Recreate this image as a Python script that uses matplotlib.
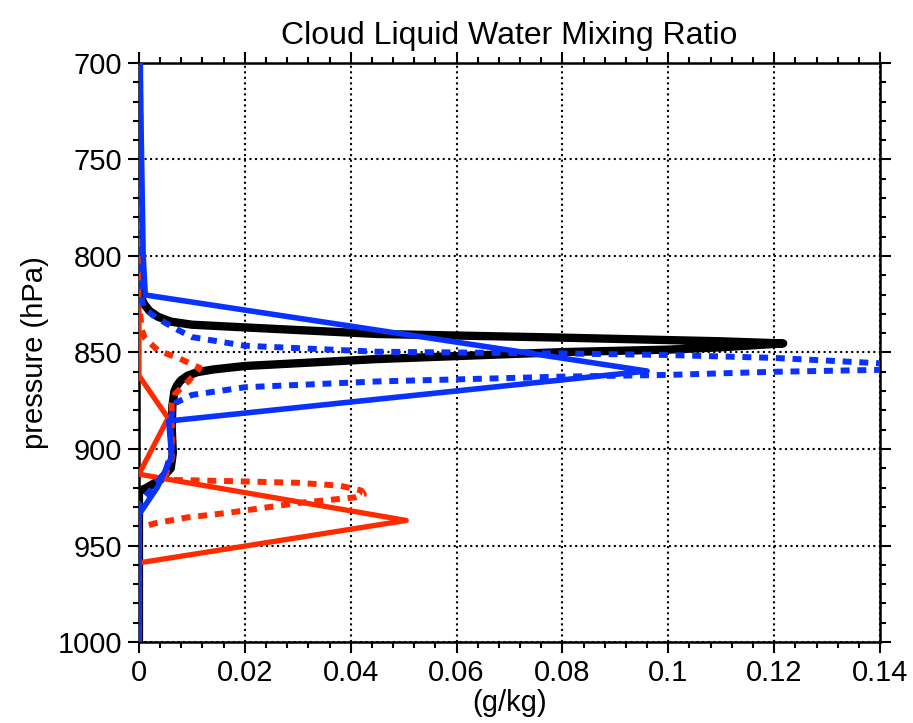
import matplotlib
matplotlib.use("Agg")
import matplotlib.pyplot as plt
from matplotlib.ticker import MultipleLocator

plt.rcParams['font.family'] = ['Liberation Sans', 'DejaVu Sans']

# pressure levels (hPa) and mixing ratio (g/kg) for each profile
black_p = [700, 815, 821, 825, 828.5, 831.5, 834, 835.6, 837, 840.4, 842.3,
           844.2, 845.3, 847.3, 848.5, 849.8, 853.4, 857, 858.8, 860.2, 862,
           864.5, 867, 870, 878, 890, 902, 910, 916, 920, 922, 1000]
black_q = [0, 0, 0.0003, 0.001, 0.002, 0.0036, 0.006, 0.01, 0.02, 0.045, 0.08,
           0.11, 0.1217, 0.11, 0.1, 0.08, 0.045, 0.02, 0.014, 0.011, 0.0092,
           0.0079, 0.0072, 0.0067, 0.0063, 0.0062, 0.0064, 0.006, 0.004,
           0.0015, 0, 0]

red_p = [700, 862, 884, 913, 915, 937, 959, 1000]
red_q = [0, 0, 0.0055, 0, 0.004, 0.0505, 0, 0]

red_dot_p = [700, 822, 838, 842.5, 849, 852.8, 858, 865, 871.5, 877, 890, 905,
             913, 916, 916.5, 917.5, 919, 921.5, 923.5, 925, 928, 933, 935.5,
             938.5, 941, 1000]
red_dot_q = [0, 0, 0.0005, 0.0011, 0.0036, 0.0074, 0.0115, 0.0093, 0.0068,
             0.0062, 0.0062, 0.0062, 0.005, 0.006, 0.015, 0.03, 0.038, 0.042,
             0.0425, 0.041, 0.03, 0.017, 0.009, 0.003, 0, 0]

blue_p = [700, 800, 820.2, 859.6, 885.5, 904, 919.7, 934, 1000]
blue_q = [0.0002, 0.0008, 0.0012, 0.096, 0.0056, 0.0062, 0.0035, 0, 0]

blue_dot_p = [700, 818, 826, 830.5, 834.7, 838.5, 842, 846.5, 849.6, 850.5,
              851.3, 852.8, 855.6, 857.3, 859, 860, 861.6, 862.5, 865, 868,
              872, 876, 882, 890, 900, 912, 922, 928, 1000]
blue_dot_q = [0.0002, 0.0003, 0.0008, 0.0025, 0.005, 0.0075, 0.01, 0.02,
              0.045, 0.08, 0.1, 0.12, 0.14, 0.143, 0.14, 0.12, 0.1, 0.08,
              0.045, 0.02, 0.01, 0.007, 0.0062, 0.006, 0.0062, 0.005, 0.002,
              0, 0]

xticks = [0, 0.02, 0.04, 0.06, 0.08, 0.1, 0.12, 0.14]
xlabels = ["0", "0.02", "0.04", "0.06", "0.08", "0.1", "0.12", "0.14"]
yticks = [700, 750, 800, 850, 900, 950, 1000]

red = '#ff2a00'
blue = '#0a32ff'

fig = plt.figure(figsize=(9.13, 7.23), dpi=100)
ax = fig.add_axes([0.1522, 0.112, 0.8117, 0.8009])

ax.plot(black_q, black_p, color='black', lw=6, zorder=3,
        solid_capstyle='round', solid_joinstyle='round')
ax.plot(red_q, red_p, color=red, lw=3.8, zorder=4)
ax.plot(red_dot_q, red_dot_p, color=red, lw=4.3, ls=(0, (1.5, 1.3)), zorder=5)
ax.plot(blue_dot_q, blue_dot_p, color=blue, lw=4.3, ls=(0, (1.5, 1.3)), zorder=6)
ax.plot(blue_q, blue_p, color=blue, lw=4.0, zorder=7)

ax.set_xlim(0, 0.14)
ax.set_ylim(1000, 700)
ax.set_xticks(xticks)
ax.set_xticklabels(xlabels)
ax.set_yticks(yticks)
ax.xaxis.set_minor_locator(MultipleLocator(0.004))
ax.yaxis.set_minor_locator(MultipleLocator(10))

ax.tick_params(which='both', direction='out', top=True, right=True,
               labelsize=21, width=1.5, pad=4)
ax.tick_params(which='major', length=8)
ax.tick_params(which='minor', length=4.5)
for s in ax.spines.values():
    s.set_linewidth(1.8)

ax.grid(True, which='major', color='black', ls=':', lw=1.5)

ax.set_title("Cloud Liquid Water Mixing Ratio", fontsize=23, pad=14)
ax.set_xlabel("(g/kg)", fontsize=21, labelpad=2)
ax.set_ylabel("pressure (hPa)", fontsize=21, labelpad=6)

plt.savefig("out.png", dpi=100)
